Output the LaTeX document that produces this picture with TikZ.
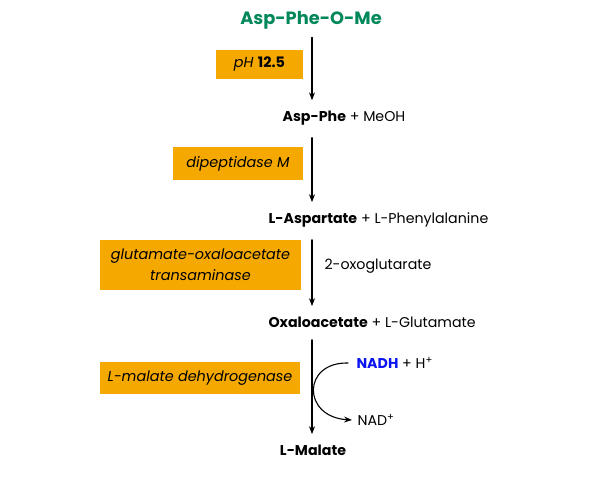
\documentclass[tikz,border=0pt]{standalone}
\usepackage{fontspec}
\setmainfont{Poppins}
\usetikzlibrary{arrows.meta}
\definecolor{enzorange}{HTML}{F5A800}
\definecolor{subgreen}{HTML}{00875A}
\definecolor{nadblue}{HTML}{0A14F0}

\begin{document}
\begin{tikzpicture}[line width=1.1pt, line cap=round, >=Stealth, x=1pt, y=1pt,
  chem/.style={inner sep=0pt, font=\fontsize{14.2}{17}\selectfont},
  enzyme/.style={fill=enzorange, inner sep=2pt, align=center,
    font=\fontsize{14.4}{21}\selectfont\itshape},
  rxn/.style={->, shorten >=0pt}]
  \useasboundingbox (0,0) rectangle (610,480);
  \coordinate (axis) at (312,0);
  % substrate and products
  \node[chem, text=subgreen, font=\fontsize{17.8}{20}\selectfont\bfseries] (sub) at (311,460) {Asp-Phe-O-Me};
  \node[chem, anchor=west] (aspphe) at (282,362) {\textbf{Asp-Phe} + MeOH};
  \node[chem, anchor=west] (asp) at (268,260) {\textbf{L-Aspartate} + L-Phenylalanine};
  \node[chem, anchor=west] (oxa) at (268,158) {\textbf{Oxaloacetate} + L-Glutamate};
  \node[chem] (mal) at (313,30) {\textbf{L-Malate}};
  \node[chem, anchor=west] (oxo) at (324,214) {2-oxoglutarate};
  \node[chem, anchor=west] (nadh) at (356,117) {\textcolor{nadblue}{\textbf{NADH}} + H\textsuperscript{+}};
  \node[chem, anchor=west] (nad) at (357,60) {NAD\textsuperscript{+}};
  % enzymes
  \node[enzyme, minimum width=87, minimum height=29] (enz1) at (259.5,415.5) {pH \textbf{\upshape 12.5}};
  \node[enzyme, minimum width=130, minimum height=33] (enz2) at (238,316.5) {dipeptidase M};
  \node[enzyme, minimum width=201, minimum height=50] (enz3) at (200.5,215) {glutamate-oxaloacetate\\transaminase};
  \node[enzyme, minimum width=200, minimum height=32] (enz4) at (200,102) {L-malate dehydrogenase};
  % reaction arrows
  \draw[rxn] ([yshift=-8]axis |- sub.south) -- ([yshift=10]axis |- aspphe.north);
  \draw[rxn] ([yshift=-12]axis |- aspphe.south) -- ([yshift=10]axis |- asp.north);
  \draw[rxn] ([yshift=-12]axis |- asp.south) -- ([yshift=10]axis |- oxa.north);
  \draw[rxn] ([yshift=-12]axis |- oxa.south) -- ([yshift=10]axis |- mal.north);
  \draw[->] ([xshift=-8]nadh.west) .. controls (302,118) and (302,63) .. ([xshift=-5]nad.west);
\end{tikzpicture}
\end{document}
